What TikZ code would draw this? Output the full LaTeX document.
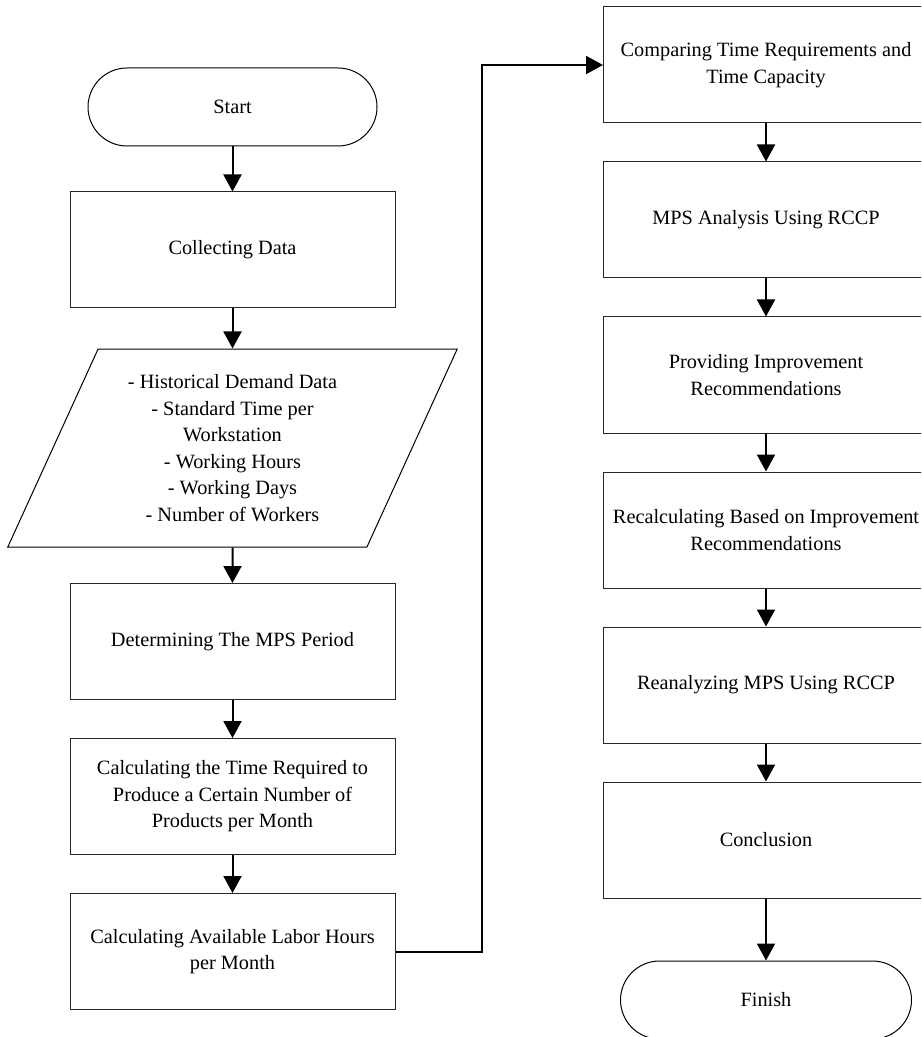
\documentclass[tikz,border=0pt]{standalone}
\usepackage{fontspec}
\setmainfont{Liberation Serif}
\usepackage{tikz}
\usetikzlibrary{positioning, shapes.geometric, arrows.meta}

\begin{document}
\begin{tikzpicture}[
        x=0.5pt, y=-0.5pt,
        process/.style={rectangle, draw=black!85, line width=0.5pt, minimum width=162.5pt, minimum height=58pt, align=center},
        terminal/.style={rectangle, rounded corners=19.5pt, draw=black, line width=0.5pt, minimum width=144.5pt, minimum height=39pt},
        datain/.style={trapezium, trapezium left angle=65, trapezium right angle=115, trapezium stretches, draw=black, line width=0.5pt, minimum width=225pt, minimum height=99pt, align=center},
        flow/.style={-{Triangle[length=8.5pt, width=9pt]}, line width=1pt},
        font=\fontsize{10.15pt}{13.25pt}\selectfont
    ]

    % ---------- frame ----------
    \useasboundingbox (0,0) rectangle (921,1037);
    \clip (0,0) rectangle (921,1037);

    % ---------- parameters ----------
    \def\leftx{232.5}
    \def\rightx{766}
    \def\rowgap{155}

    % ---------- left column ----------
    \node[terminal] (start) at (\leftx, 107) {Start};
    \node[process] (collect) at (\leftx, 250) {Collecting Data};
    \node[datain] (data) at (\leftx, 448) {- Historical Demand Data\\ - Standard Time per\\ Workstation\\ - Working Hours\\ - Working Days\\ - Number of Workers};
    \node[process] (period) at (\leftx, 641.5) {Determining The MPS Period};
    \node[process] (reqtime) at (\leftx, 796.5) {Calculating the Time Required to\\ Produce a Certain Number of\\ Products per Month};
    \node[process] (labor) at (\leftx, 951.5) {Calculating Available Labor Hours\\ per Month};

    % ---------- right column ----------
    \foreach \name/\txt [count=\i] in {
            compare/{Comparing Time Requirements and\\ Time Capacity},
            rccp/{MPS Analysis Using RCCP},
            improve/{Providing Improvement\\ Recommendations},
            recalc/{Recalculating Based on Improvement\\ Recommendations},
            reanalyze/{Reanalyzing MPS Using RCCP},
            conclude/{Conclusion}} {
        \pgfmathsetmacro\y{65 + (\i-1)*\rowgap}
        \node[process] (\name) at (\rightx, \y) {\txt};
    }
    \node[terminal, minimum width=145.5pt] (finish) at (\rightx, 1000) {Finish};

    % ---------- connectors ----------
    \foreach \a/\b in {start/collect, collect/data, data/period, period/reqtime, reqtime/labor,
            compare/rccp, rccp/improve, improve/recalc, recalc/reanalyze, reanalyze/conclude, conclude/finish} {
        \draw[flow] (\a) -- (\b);
    }

    \coordinate (bend) at (482, 951.5);
    \draw[flow] (labor.east) -- (bend) |- (compare.west);

\end{tikzpicture}
\end{document}
